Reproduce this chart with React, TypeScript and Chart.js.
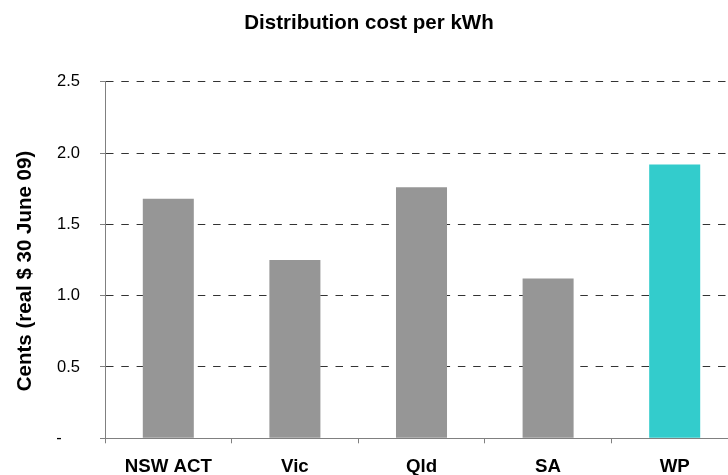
import React, { useEffect, useRef } from "react";
import { Chart, registerables } from "chart.js";

Chart.register(...registerables);

const categories = ["NSW ACT", "Vic", "Qld", "SA", "WP"];
const costValues = [1.68, 1.25, 1.76, 1.12, 1.92];
const barColors = ["#969696", "#969696", "#969696", "#969696", "#33CCCC"];
const yTicks = [0, 0.5, 1.0, 1.5, 2.0, 2.5];
const chartTitle = "Distribution cost per kWh";
const yAxisTitle = "Cents (real $ 30 June 09)";

const FONT = "'Liberation Sans', Arial, Helvetica, sans-serif";

const yTitlePlugin = {
  id: "yTitlePlugin",
  afterDraw(chart: any) {
    const ctx = chart.ctx;
    ctx.save();
    ctx.translate(25.5, 271);
    ctx.rotate(-Math.PI / 2);
    ctx.font = `bold 20.5px ${FONT}`;
    ctx.fillStyle = "#000";
    ctx.textAlign = "center";
    ctx.textBaseline = "middle";
    ctx.fillText(yAxisTitle, 0, 0);
    ctx.restore();
  },
};

export default function App() {
  const ref = useRef<HTMLCanvasElement | null>(null);

  useEffect(() => {
    if (!ref.current) return;
    const chart = new Chart(ref.current, {
      type: "bar",
      data: {
        labels: categories,
        datasets: [
          {
            data: costValues,
            backgroundColor: barColors,
            borderWidth: 0,
            barPercentage: 0.403,
            categoryPercentage: 1,
          },
        ],
      },
      plugins: [yTitlePlugin],
      options: {
        animation: false,
        responsive: true,
        maintainAspectRatio: false,
        layout: { padding: { left: 0, right: 22, top: 0, bottom: 0 } },
        plugins: {
          legend: { display: false },
          tooltip: { enabled: false },
          title: {
            display: true,
            text: chartTitle,
            color: "#000",
            font: { family: FONT, size: 20.5, weight: "bold", lineHeight: 1.2 },
            padding: { top: 11, bottom: 46.1 },
          },
        },
        scales: {
          x: {
            type: "category",
            grid: {
              display: true,
              drawOnChartArea: false,
              drawTicks: true,
              tickLength: 5,
              tickColor: "#808080",
              offset: true,
            },
            border: { display: true, color: "#808080", width: 1 },
            ticks: {
              color: "#000",
              padding: 12.5,
              font: { family: FONT, size: 18.7, weight: "bold" },
              maxRotation: 0,
            },
            afterFit(scale: any) {
              scale.height = 36.7;
            },
          },
          y: {
            type: "linear",
            min: 0,
            max: 2.5,
            afterBuildTicks(scale: any) {
              scale.ticks = yTicks.map((v) => ({ value: v }));
            },
            grid: {
              display: true,
              drawOnChartArea: true,
              drawTicks: true,
              tickLength: 5,
              tickColor: "#808080",
              tickBorderDash: [],
              lineWidth: 1,
              color: (ctx: any) =>
                ctx.tick && ctx.tick.value === 0 ? "rgba(0,0,0,0)" : "#333333",
            },
            border: {
              display: true,
              color: "#808080",
              width: 1,
              dash: [7.5, 7.8],
              dashOffset: 0,
            },
            ticks: {
              color: "#000",
              padding: 20,
              font: { family: FONT, size: 16.5 },
              callback: (v: any) => (Number(v) === 0 ? "-    " : Number(v).toFixed(1)),
            },
            afterFit(scale: any) {
              scale.width = 105;
            },
          },
        },
      },
    });
    return () => chart.destroy();
  }, []);

  return (
    <div
      style={{
        position: "absolute",
        left: 0,
        top: 0,
        width: 728,
        height: 475,
        overflow: "hidden",
        background: "#fff",
      }}
    >
      <div style={{ position: "relative", width: 760, height: 475 }}>
        <canvas ref={ref} />
      </div>
    </div>
  );
}
